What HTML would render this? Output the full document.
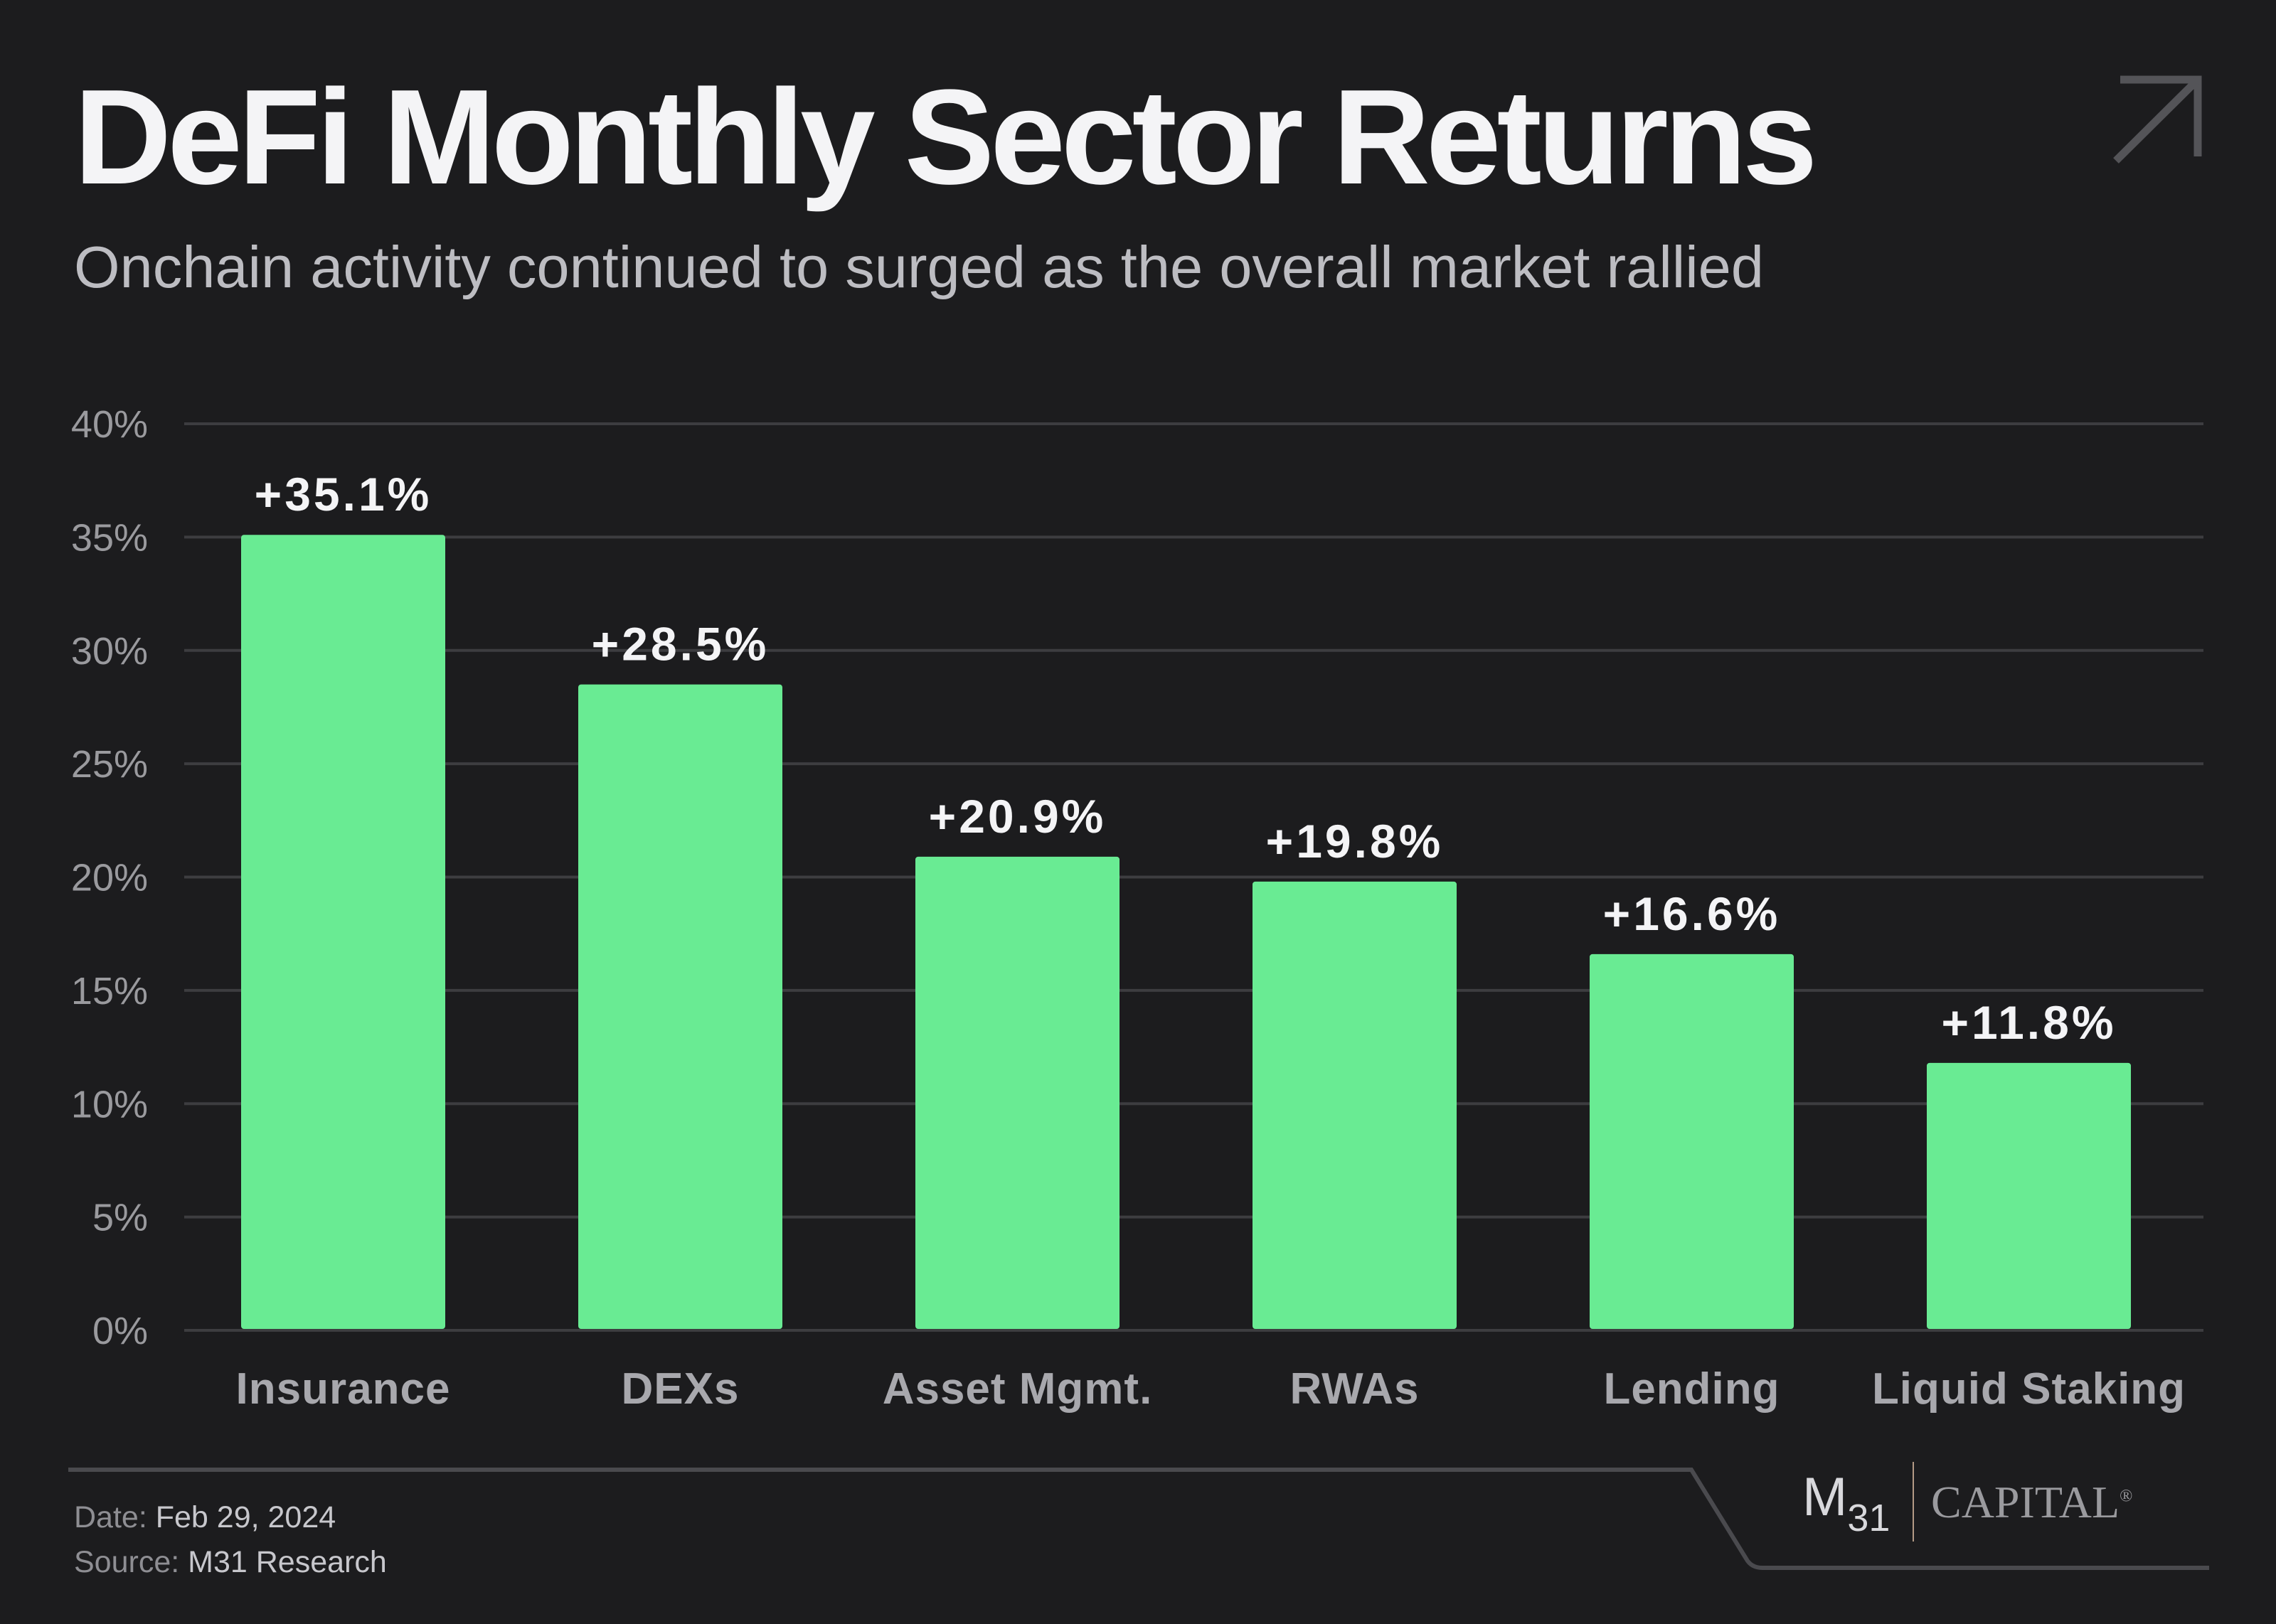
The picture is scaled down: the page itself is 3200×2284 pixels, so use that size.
<!DOCTYPE html>
<html><head><meta charset="utf-8"><style>
html,body{margin:0;padding:0;background:#1c1c1e;}
body{width:3200px;height:2284px;position:relative;overflow:hidden;font-family:"Liberation Sans",sans-serif;}
.t{position:absolute;white-space:nowrap;}
</style></head><body>
<div class="t" style="left:104px;top:84px;font-size:190px;font-weight:bold;color:#f4f4f6;letter-spacing:-6px;">DeFi Monthly Sector Returns</div>
<div class="t" style="left:104px;top:328px;font-size:83px;color:#bdbdc2;">Onchain activity continued to surged as the overall market rallied</div>
<svg style="position:absolute;left:0;top:0" width="3200" height="2284">
<g stroke="#545458" stroke-width="11" fill="none"><path d="M2981 112 H3090 V220"/><path d="M3088 114 L2975 226"/></g>
</svg>
<svg id="chart" style="position:absolute;left:0;top:0" width="3200" height="2284"></svg>
<svg style="position:absolute;left:0;top:0" width="3200" height="2284">
<path d="M96 2067 H2378 L2455 2192 Q2462 2205 2478 2205 H3106" stroke="#4a4a4e" stroke-width="6" fill="none"/>
<line x1="2690" y1="2056" x2="2690" y2="2168" stroke="#b49a86" stroke-width="2"/>
</svg>
<div class="t" style="left:104px;top:2110px;font-size:43px;color:#8e8e93;">Date: <span style="color:#c7c7cc">Feb 29, 2024</span></div>
<div class="t" style="left:104px;top:2173px;font-size:43px;color:#8e8e93;">Source: <span style="color:#c7c7cc">M31 Research</span></div>
<div class="t" style="left:2534px;top:2062px;font-size:76px;color:#d8d8dc;">M<span style="font-size:54px;position:relative;top:22px;">31</span></div>
<div class="t" style="left:2715px;top:2076px;font-size:64px;color:#9a9a9e;font-family:'Liberation Serif',serif;">CAPITAL<sup style="font-size:24px;">®</sup></div>
<script>
const categories=["Insurance","DEXs","Asset Mgmt.","RWAs","Lending","Liquid Staking"];
const values=[35.1,28.5,20.9,19.8,16.6,11.8];
const valueLabels=["+35.1%","+28.5%","+20.9%","+19.8%","+16.6%","+11.8%"];
const ticks=[0,5,10,15,20,25,30,35,40];
const tickLabels=["0%","5%","10%","15%","20%","25%","30%","35%","40%"];
const svg=document.getElementById('chart');
const NS='http://www.w3.org/2000/svg';
const y0=1871,y40=596,xL=259,xR=3098,firstX=339,step=474,bw=287;
const y=v=>y0-(v/40)*(y0-y40);
const x=i=>firstX+i*step;
function mk(t,a){const e=document.createElementNS(NS,t);for(const k in a)e.setAttribute(k,a[k]);svg.appendChild(e);return e;}
ticks.forEach((t,i)=>{
 const l=mk('line',{x1:xL,x2:xR,y1:y(t),y2:y(t),stroke:'#3d3d40','stroke-width':4});
 
 
 const tx=mk('text',{x:208,y:y(t)+19,'text-anchor':'end','font-size':54,fill:'#9a9a9e'});
 tx.textContent=tickLabels[i];
 
 
});
values.forEach((v,i)=>{
 const r=mk('rect',{x:x(i),y:y(v),width:bw,height:y0-y(v)-2,rx:4,fill:'#69eb93'});
 
 
 const lt=mk('text',{x:x(i)+bw/2,y:y(v)-34,'text-anchor':'middle','font-size':66,'font-weight':'bold',fill:'#f4f4f6','letter-spacing':4});
 lt.textContent=valueLabels[i];
 
 
 const ct=mk('text',{x:x(i)+bw/2,y:1974,'text-anchor':'middle','font-size':62,'font-weight':'bold',fill:'#a8a8ad','letter-spacing':1});
 ct.textContent=categories[i];
 
 
});
</script>
</body></html>
